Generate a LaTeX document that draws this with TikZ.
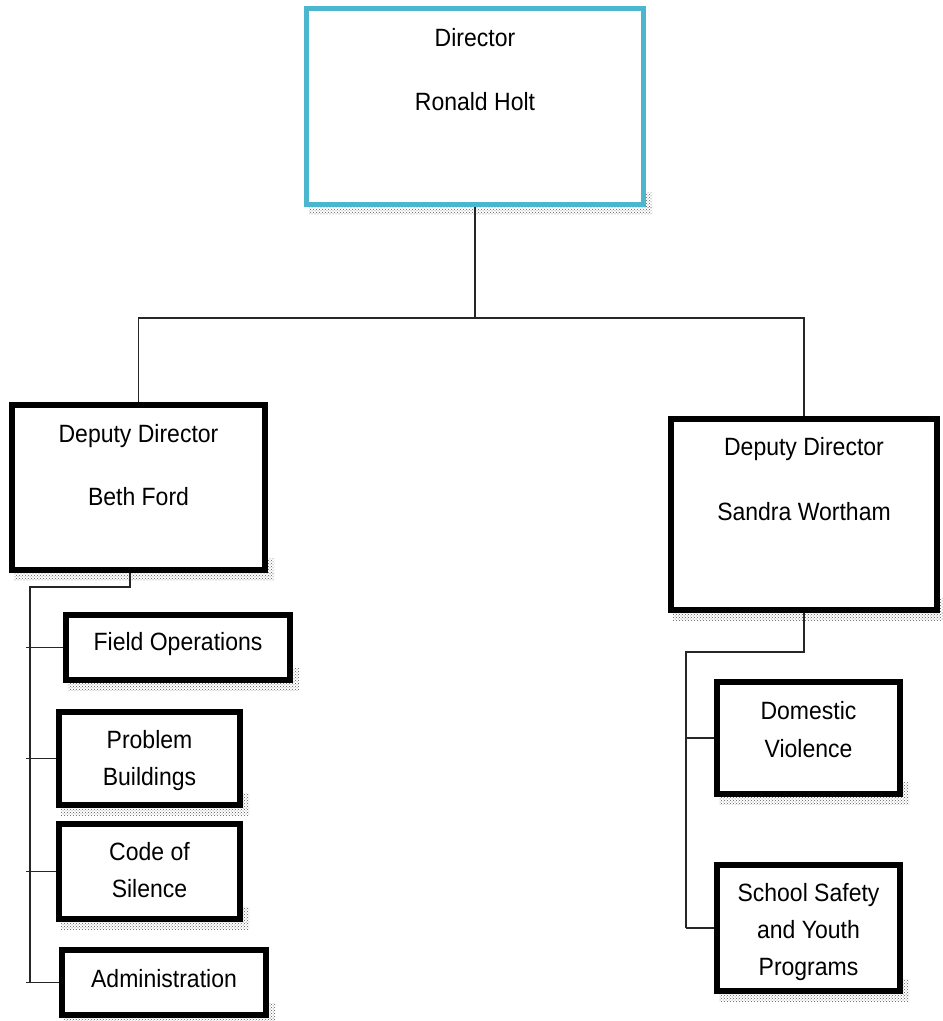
\documentclass[tikz,border=0pt]{standalone}
\usepackage{fontspec}
\setmainfont{Liberation Sans}[FakeStretch=0.92]
\usetikzlibrary{patterns}
\definecolor{dirblue}{RGB}{75,182,205}
\newcommand\boxshadow[1]{%
  \fill[shad] ([xshift=5pt]#1.south west) rectangle ([xshift=6pt,yshift=-7pt]#1.south east);
  \fill[shad] ([yshift=15pt]#1.south east) rectangle ([xshift=6pt]#1.south east);}
\begin{document}
\begin{tikzpicture}[x=1pt,y=-1pt,
  box/.style={draw=black, line width=6pt, fill=white, inner sep=0pt, rectangle},
  dirbox/.style={box, draw=dirblue, line width=5pt},
  conn/.style={draw=black!85, line width=1.2pt},
  txt/.style={font=\fontsize{25}{29}\selectfont, anchor=base, inner sep=0pt},
  shad/.style={pattern=crosshatch dots, pattern color=black!65}]
\useasboundingbox (0,0) rectangle (943,1021);
% boxes
\node[dirbox, minimum width=337pt, minimum height=196pt] (dir) at (475,106.5) {};
\node[box, minimum width=253pt, minimum height=165pt] (dep1) at (138.5,487.5) {};
\node[box, minimum width=224pt, minimum height=65pt] (fo) at (178,647.5) {};
\node[box, minimum width=181pt, minimum height=93pt] (pb) at (149.5,758.5) {};
\node[box, minimum width=181pt, minimum height=95pt] (cs) at (149.5,871.5) {};
\node[box, minimum width=204pt, minimum height=65pt] (ad) at (164,982.5) {};
\node[box, minimum width=266pt, minimum height=191pt] (dep2) at (804,514.5) {};
\node[box, minimum width=183pt, minimum height=112pt] (dv) at (808.5,738) {};
\node[box, minimum width=183pt, minimum height=126pt] (ss) at (808.5,928) {};
% shadows
\foreach \b in {dir,dep1,fo,pb,cs,ad,dep2,dv,ss}{\boxshadow{\b}}
% connectors
\coordinate (tb) at (475,318);
\draw[conn] (dir.south) -- (tb);
\draw[conn] (dep1.north) |- (tb) -| (dep2.north);
\coordinate (lb1) at (30,587);
\coordinate (lb2) at (30,983);
\coordinate (ltick) at (26,0);
\draw[conn] ([xshift=-8.5pt]dep1.south) |- (lb1) -- (lb2);
\foreach \n in {fo,pb,cs,ad}{\draw[conn] (\n.west) -- (\n.west -| ltick);}
\coordinate (rb1) at (686,652);
\coordinate (rb2) at (686,928);
\draw[conn] (dep2.south) |- (rb1) -- (rb2);
\foreach \n in {dv,ss}{\draw[conn] (\n.west) -- (\n.west -| rb1);}
% texts
\node[txt] (t1) at (475,46) {Director};
\node[txt] (t2) at (475,110) {Ronald Holt};
\node[txt] (t3) at (138.5,442) {Deputy Director};
\node[txt] (t4) at (138.5,505) {Beth Ford};
\node[txt] (t5) at (804,455) {Deputy Director};
\node[txt] (t6) at (804,520) {Sandra Wortham};
\node[txt] (t7) at (178,650) {Field Operations};
\node[txt] (t8) at (149.5,748) {Problem};
\node[txt] (t9) at (149.5,785) {Buildings};
\node[txt] (t10) at (149.5,860) {Code of};
\node[txt] (t11) at (149.5,897) {Silence};
\node[txt] (t12) at (164,987) {Administration};
\node[txt] (t13) at (808.5,719) {Domestic};
\node[txt] (t14) at (808.5,757) {Violence};
\node[txt] (t15) at (808.5,901) {School Safety};
\node[txt] (t16) at (808.5,938) {and Youth};
\node[txt] (t17) at (808.5,975) {Programs};
\end{tikzpicture}
\end{document}
